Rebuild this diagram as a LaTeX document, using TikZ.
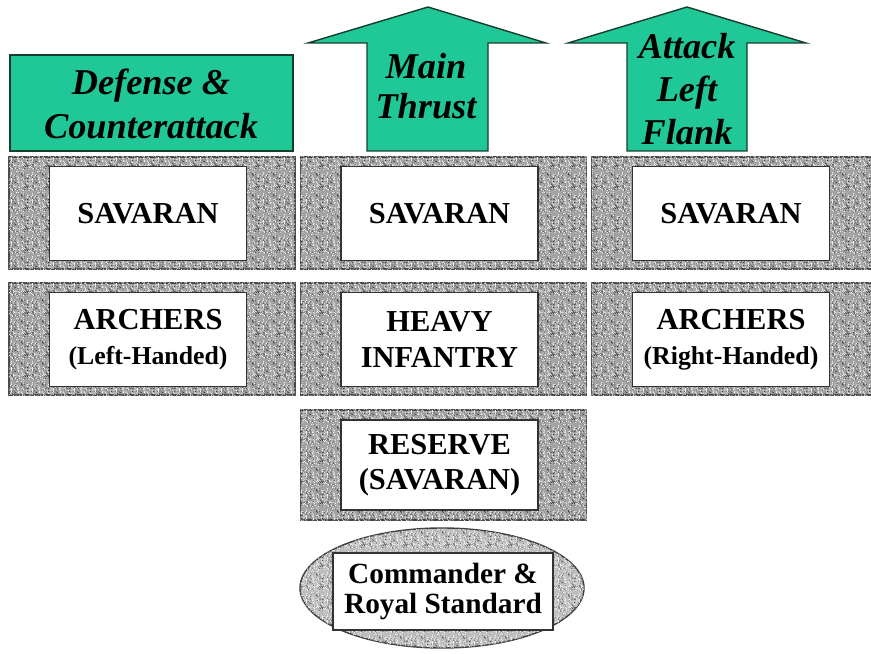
\documentclass[tikz,border=0pt]{standalone}
\usepackage{fontspec}
\setmainfont{Liberation Serif}
\newfontfamily\orderfont{Liberation Serif}[UprightFont={* Bold Italic}]
\usetikzlibrary{shapes.geometric,patterns}

\definecolor{ordergreen}{RGB}{32,200,152}
\definecolor{orderedge}{RGB}{22,62,46}

% speckles for the granite fill
\pgfmathsetseed{11}
\pgfdeclarepatternformonly{granitedark}{\pgfqpoint{0pt}{0pt}}{\pgfqpoint{18pt}{18pt}}{\pgfqpoint{18pt}{18pt}}{%
  \foreach \k in {1,...,95}{%
    \pgfmathsetmacro\gx{0.5+17*rnd}\pgfmathsetmacro\gy{0.5+17*rnd}%
    \pgfpathcircle{\pgfpoint{\gx pt}{\gy pt}}{0.42pt}\pgfusepath{fill}}}
\pgfdeclarepatternformonly{granitelight}{\pgfqpoint{0pt}{0pt}}{\pgfqpoint{18pt}{18pt}}{\pgfqpoint{18pt}{18pt}}{%
  \foreach \k in {1,...,110}{%
    \pgfmathsetmacro\gx{0.5+17*rnd}\pgfmathsetmacro\gy{0.5+17*rnd}%
    \pgfpathcircle{\pgfpoint{\gx pt}{\gy pt}}{0.45pt}\pgfusepath{fill}}}

\begin{document}
\begin{tikzpicture}[x=0.03cm,y=-0.03cm]
    \tikzstyle{granite_style}=[rectangle, draw=black!70, line width=1.2pt, fill=black!36, postaction={pattern=granitedark, pattern color=black!80}, postaction={pattern=granitelight, pattern color=white}, minimum width=8.58cm, minimum height=3.36cm, inner sep=0pt]
    \tikzstyle{unit_style}=[rectangle, draw=black!80, line width=1pt, fill=white, minimum width=5.91cm, minimum height=2.82cm, inner sep=0pt, align=center, font=\fontsize{26}{30}\selectfont\bfseries]
    \tikzstyle{green_style}=[draw=orderedge, line width=1.2pt, fill=ordergreen]
    \tikzstyle{order_style}=[align=center, inner sep=0pt, font=\fontsize{31}{38}\selectfont\orderfont]

    \useasboundingbox (0,0) rectangle (871,654);

    % orders
    \draw[green_style] (10,55) rectangle (293,151);
    \draw[green_style] (367,151) -- (367,43) -- (308,43) -- (428,7) -- (546,43) -- (488,43) -- (488,151) -- cycle;
    \draw[green_style] (627,151) -- (627,43) -- (568,43) -- (687,7) -- (806,43) -- (747,43) -- (747,151) -- cycle;
    \node at (151,104) [order_style] (order_left) {Defense \&\\Counterattack};
    \node at (426,86) [order_style, font=\fontsize{31}{34}\selectfont\orderfont] (order_main) {Main\\Thrust};
    \node at (687,89) [order_style, font=\fontsize{31}{37}\selectfont\orderfont] (order_right) {Attack\\Left\\Flank};

    % granite frames
    \foreach \x/\n in {152/l, 443.5/m, 734.5/r}
      \node at (\x, 213) [granite_style] (front_\n) {};
    \foreach \x/\n in {152/l, 443.5/m, 734.5/r}
      \node at (\x, 339) [granite_style] (second_\n) {};
    \node at (443.5, 465) [granite_style, minimum height=3.3cm] (reserve_bg) {};

    % savaran
    \foreach \x/\n in {148/l, 439.5/m, 731/r}
      \node at (\x, 213.5) [unit_style] (savaran_\n) {SAVARAN};

    % second line
    \node at (148, 339.5) [unit_style] (archers_l) {ARCHERS\\{\fontsize{22}{27}\selectfont (Left-Handed)}};
    \node at (439.5, 339.5) [unit_style] (infantry_m) {HEAVY\\INFANTRY};
    \node at (731, 339.5) [unit_style] (archers_r) {ARCHERS\\{\fontsize{22}{27}\selectfont (Right-Handed)}};

    % reserve
    \node at (439.5, 465) [unit_style, minimum height=2.7cm] (reserve) {RESERVE\\(SAVARAN)};

    % commander
    \node at (442, 588) [ellipse, draw=black!75, line width=1.2pt, fill=black!25, postaction={pattern=granitedark, pattern color=black!70}, postaction={pattern=granitelight, pattern color=white}, minimum width=8.52cm, minimum height=3.6cm, inner sep=0pt] (commander_bg) {};
    \node at (443, 591.5) [unit_style, minimum width=6.6cm, minimum height=2.31cm, font=\fontsize{25}{26}\selectfont\bfseries] (commander) {Commander \&\\Royal Standard};

\end{tikzpicture}
\end{document}
